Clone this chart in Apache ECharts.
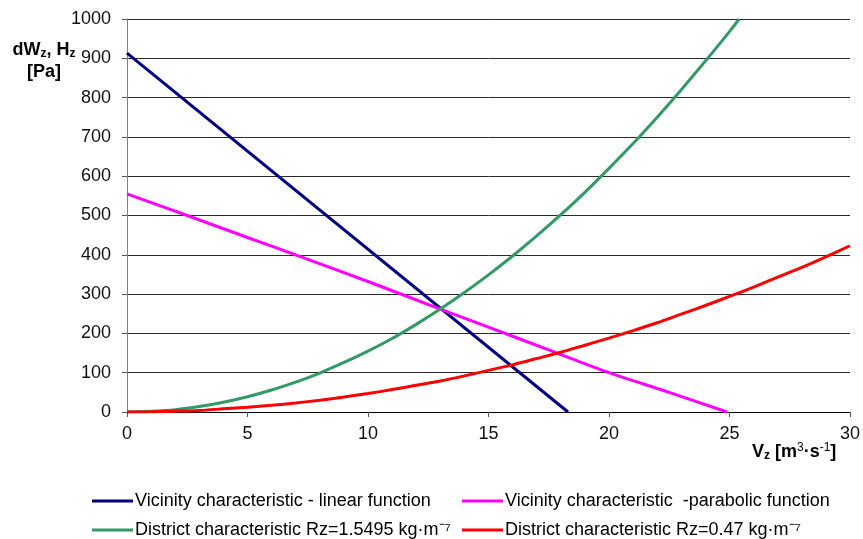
<!DOCTYPE html>
<html>
<head>
<meta charset="utf-8">
<script src="https://cdn.jsdelivr.net/npm/echarts@6/dist/echarts.min.js"></script>
<style>html,body{margin:0;padding:0;background:#fff}#c{width:863px;height:539px}</style>
</head>
<body>
<div id="c"></div>
<script>
// ---- data ----
const xTicks = [0, 5, 10, 15, 20, 25, 30];
const yTicks = [0, 100, 200, 300, 400, 500, 600, 700, 800, 900, 1000];

const linearV = [0, 18.3];
const linearH = [913, 0];

const parabolicV = [0, 2.5, 5, 7, 10, 13, 15, 17.5, 20, 22.5, 24.9];
const parabolicH = [555, 500, 444, 400, 332, 262, 216, 158, 100, 50, 0];

const districtV1 = [0, 1, 2, 3, 4, 5, 6, 7, 8, 9, 10, 11, 12, 13, 14, 15, 16, 17, 18, 19, 20, 21, 22, 23, 24, 25, 25.4];
const districtH1 = [0, 2, 6, 14, 25, 39, 56, 76, 99, 126, 155, 187, 223, 262, 304, 349, 397, 448, 502, 559, 620, 683, 750, 820, 893, 968, 1000];

const districtV2 = [0, 1, 2, 3, 4, 5, 6, 7, 8, 9, 10, 11, 12, 13, 14, 15, 16, 17, 18, 19, 20, 21, 22, 23, 24, 25, 26, 27, 28, 29, 30];
const districtH2 = [0, 0.5, 2, 4, 8, 12, 17, 23, 30, 38, 47, 57, 68, 79, 92, 106, 120, 136, 152, 170, 188, 207, 227, 249, 271, 294, 318, 343, 368, 395, 423];

const seriesNames = [
  'Vicinity characteristic - linear function',
  'Vicinity characteristic  -parabolic function',
  'District characteristic Rz=1.5495 kg·m⁻⁷',
  'District characteristic Rz=0.47 kg·m⁻⁷'
];
const seriesColors = ['#000080', '#FF00FF', '#339966', '#FF0000'];

const pairs = (xs, ys) => xs.map((x, i) => [x, ys[i]]);

const chart = echarts.init(document.getElementById('c'), null, {renderer: 'canvas'});
const regular = '"Liberation Sans", Arial, sans-serif';

function legendFor(i, left, top) {
  return {
    data: [seriesNames[i]],
    left: left, top: top,
    icon: 'rect', itemWidth: 41, itemHeight: 3, itemGap: 0,
    padding: 0,
    selectedMode: false,
    textStyle: {fontFamily: regular, fontSize: 18, color: '#000', padding: [0, 0, 0, -3]}
  };
}

const option = {
  animation: false,
  backgroundColor: '#fff',
  title: [
    {
      text: '{b|dW}{s|z}{b|, H}{s|z}\n{b|[Pa]}',
      left: 39, top: 34, textAlign: 'center',
      textStyle: {
        align: 'center',
        rich: {
          b: {fontFamily: regular, fontWeight: 'bold', fontSize: 18, color: '#000', lineHeight: 22, align: 'center'},
          s: {fontFamily: regular, fontWeight: 'bold', fontSize: 12, color: '#000', lineHeight: 22, padding: [8, 0, 0, 0]}
        }
      }
    },
    {
      text: '{b|V}{s|z}{b| [m}{p|3}{b|·s}{p|-1}{b|]}',
      left: 747, top: 436,
      textStyle: {
        rich: {
          b: {fontFamily: regular, fontWeight: 'bold', fontSize: 18, color: '#000', lineHeight: 22},
          s: {fontFamily: regular, fontWeight: 'bold', fontSize: 12, color: '#000', lineHeight: 22, padding: [8, 0, 0, 0]},
          p: {fontFamily: regular, fontWeight: 'normal', fontSize: 12, color: '#000', lineHeight: 22, padding: [0, 0, 8, 0]}
        }
      }
    }
  ],
  legend: [
    legendFor(0, 92, 492),
    legendFor(1, 462, 492),
    legendFor(2, 92, 521),
    legendFor(3, 462, 521)
  ],
  grid: {left: 127, right: 13, top: 19, bottom: 127, containLabel: false},
  xAxis: {
    type: 'value', min: xTicks[0], max: xTicks[xTicks.length - 1], interval: 5,
    axisLine: {show: true, onZero: false, lineStyle: {color: '#000', width: 1}},
    axisTick: {show: true, length: 5, lineStyle: {color: '#555'}},
    axisLabel: {fontFamily: regular, fontSize: 18, color: '#111', margin: 13},
    splitLine: {show: false}
  },
  yAxis: {
    type: 'value', min: yTicks[0], max: yTicks[yTicks.length - 1], interval: 100,
    axisLine: {show: true, lineStyle: {color: '#808080', width: 1}},
    axisTick: {show: true, length: 5, lineStyle: {color: '#555'}},
    axisLabel: {fontFamily: regular, fontSize: 18, color: '#111', margin: 16, formatter: v => String(v)},
    splitLine: {show: true, lineStyle: {color: '#2a2a2a', width: 1}}
  },
  series: [
    {name: seriesNames[0], type: 'line', data: pairs(linearV, linearH)},
    {name: seriesNames[1], type: 'line', data: pairs(parabolicV, parabolicH), smooth: 0.3},
    {name: seriesNames[2], type: 'line', data: pairs(districtV1, districtH1), smooth: 0.3},
    {name: seriesNames[3], type: 'line', data: pairs(districtV2, districtH2), smooth: 0.3}
  ].map((s, i) => Object.assign(s, {
    symbol: 'none', showSymbol: false, clip: true,
    color: seriesColors[i],
    lineStyle: {color: seriesColors[i], width: 3}
  }))
};
chart.setOption(option);
</script>
</body>
</html>
